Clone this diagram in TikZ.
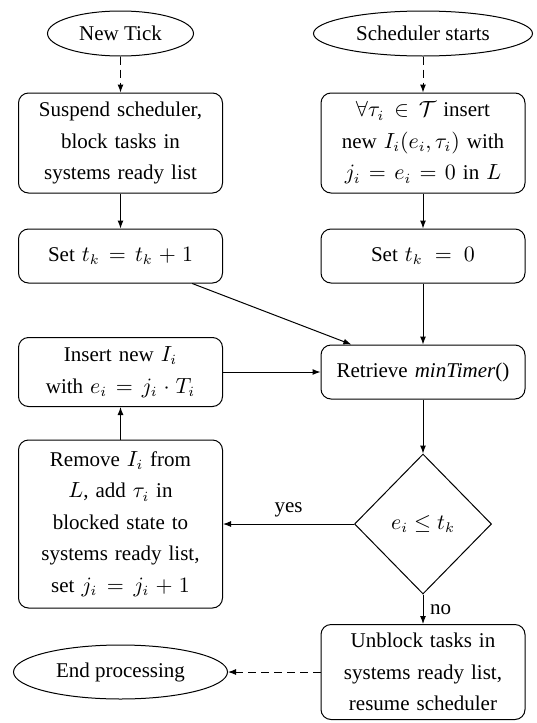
\documentclass[tikz,border=0pt]{standalone}
\usepackage{amsmath}
\usepackage{amssymb}
\usepackage[no-math]{fontspec}
\setmainfont{Liberation Serif}
\usepackage{tikz}
\usetikzlibrary{arrows.meta,positioning,shapes.geometric}
\tikzset{
	>={Latex[length=4pt,width=3pt]},
	process/.style={
		rectangle,
		draw,
		rounded corners=5pt,
		text width=94pt,
		inner sep=4pt,
		align=center
	},
	terminal/.style={
		ellipse,
		draw,
		inner sep=0pt
	},
	decision/.style={
		diamond,
		draw,
		inner sep=0pt,
		minimum width=68.5pt,
		minimum height=70pt
	},
	dashedflow/.style={
		->,
		dash pattern=on 4pt off 2.5pt
	}
}

\begin{document}
\begin{tikzpicture}[
	node distance=54.75pt and 151.25pt,
	on grid,
	line width=0.5pt,
	every node/.style={font=\fontsize{10.5pt}{15.75pt}\selectfont}
	]
	
	\useasboundingbox (0,0) rectangle (268pt,-361.5pt);
	
	%--------------------
	% Tick handler (left)
	%--------------------
	\node[terminal, minimum width=73pt, minimum height=22.5pt] (tick) at (60.25pt,-16.75pt) {New Tick};
	\node[process, minimum height=50pt, below=54.75pt of tick] (suspend) {Suspend scheduler,\\ block tasks in\\ systems ready list};
	\node[process, minimum height=27pt, below=56.5pt of suspend] (inctime) {Set $t_k = t_k + 1$};
	\node[process, minimum height=34.5pt, below=58pt of inctime] (insert) {Insert new $I_i$\\ with $e_i = j_i \cdot T_i$};
	\node[process, minimum height=84pt, below=76pt of insert] (remove) {Remove $I_i$ from\\ $L$, add $\tau_i$ in\\ blocked state to\\ systems ready list,\\ set $j_i = j_i + 1$};
	\node[terminal, minimum width=107pt, minimum height=27pt, below=74pt of remove] (endproc) {End processing};
	
	%--------------------
	% Scheduler start (right)
	%--------------------
	\node[terminal, minimum width=109.5pt, minimum height=22.5pt, right=of tick] (start) {Scheduler starts};
	\node[process, minimum height=50pt, right=of suspend] (init) {$\forall \tau_i \in \mathcal{T}$ insert\\ new $I_i(e_i, \tau_i)$ with\\ $j_i = e_i = 0$ in $L$};
	\node[process, minimum height=27pt, right=of inctime] (reset) {Set $t_k = 0$};
	\node[process, minimum height=27pt, right=of insert] (retrieve) {Retrieve \textit{minTimer}()};
	\node[decision, right=of remove] (check) {$e_i \leq t_k$};
	\node[process, minimum height=47.5pt, right=of endproc] (unblock) {Unblock tasks in\\ systems ready list,\\ resume scheduler};
	
	%--------------------
	% Connections
	%--------------------
	\draw[dashedflow] (tick) -- (suspend);
	\draw[->] (suspend) -- (inctime);
	\draw[dashedflow] (start) -- (init);
	\draw[->] (init) -- (reset);
	
	\draw[->] (inctime) -- (retrieve);
	\draw[->] (reset) -- (retrieve);
	\draw[->] (insert) -- (retrieve);
	\draw[->] (retrieve) -- (check);
	
	\draw[->] (check) -- node[above] {yes} (remove);
	\draw[->] (remove) -- (insert);
	\draw[->] (check) -- node[right] {no} (unblock);
	\draw[dashedflow] (unblock) -- (endproc);
	
\end{tikzpicture}
\end{document}
